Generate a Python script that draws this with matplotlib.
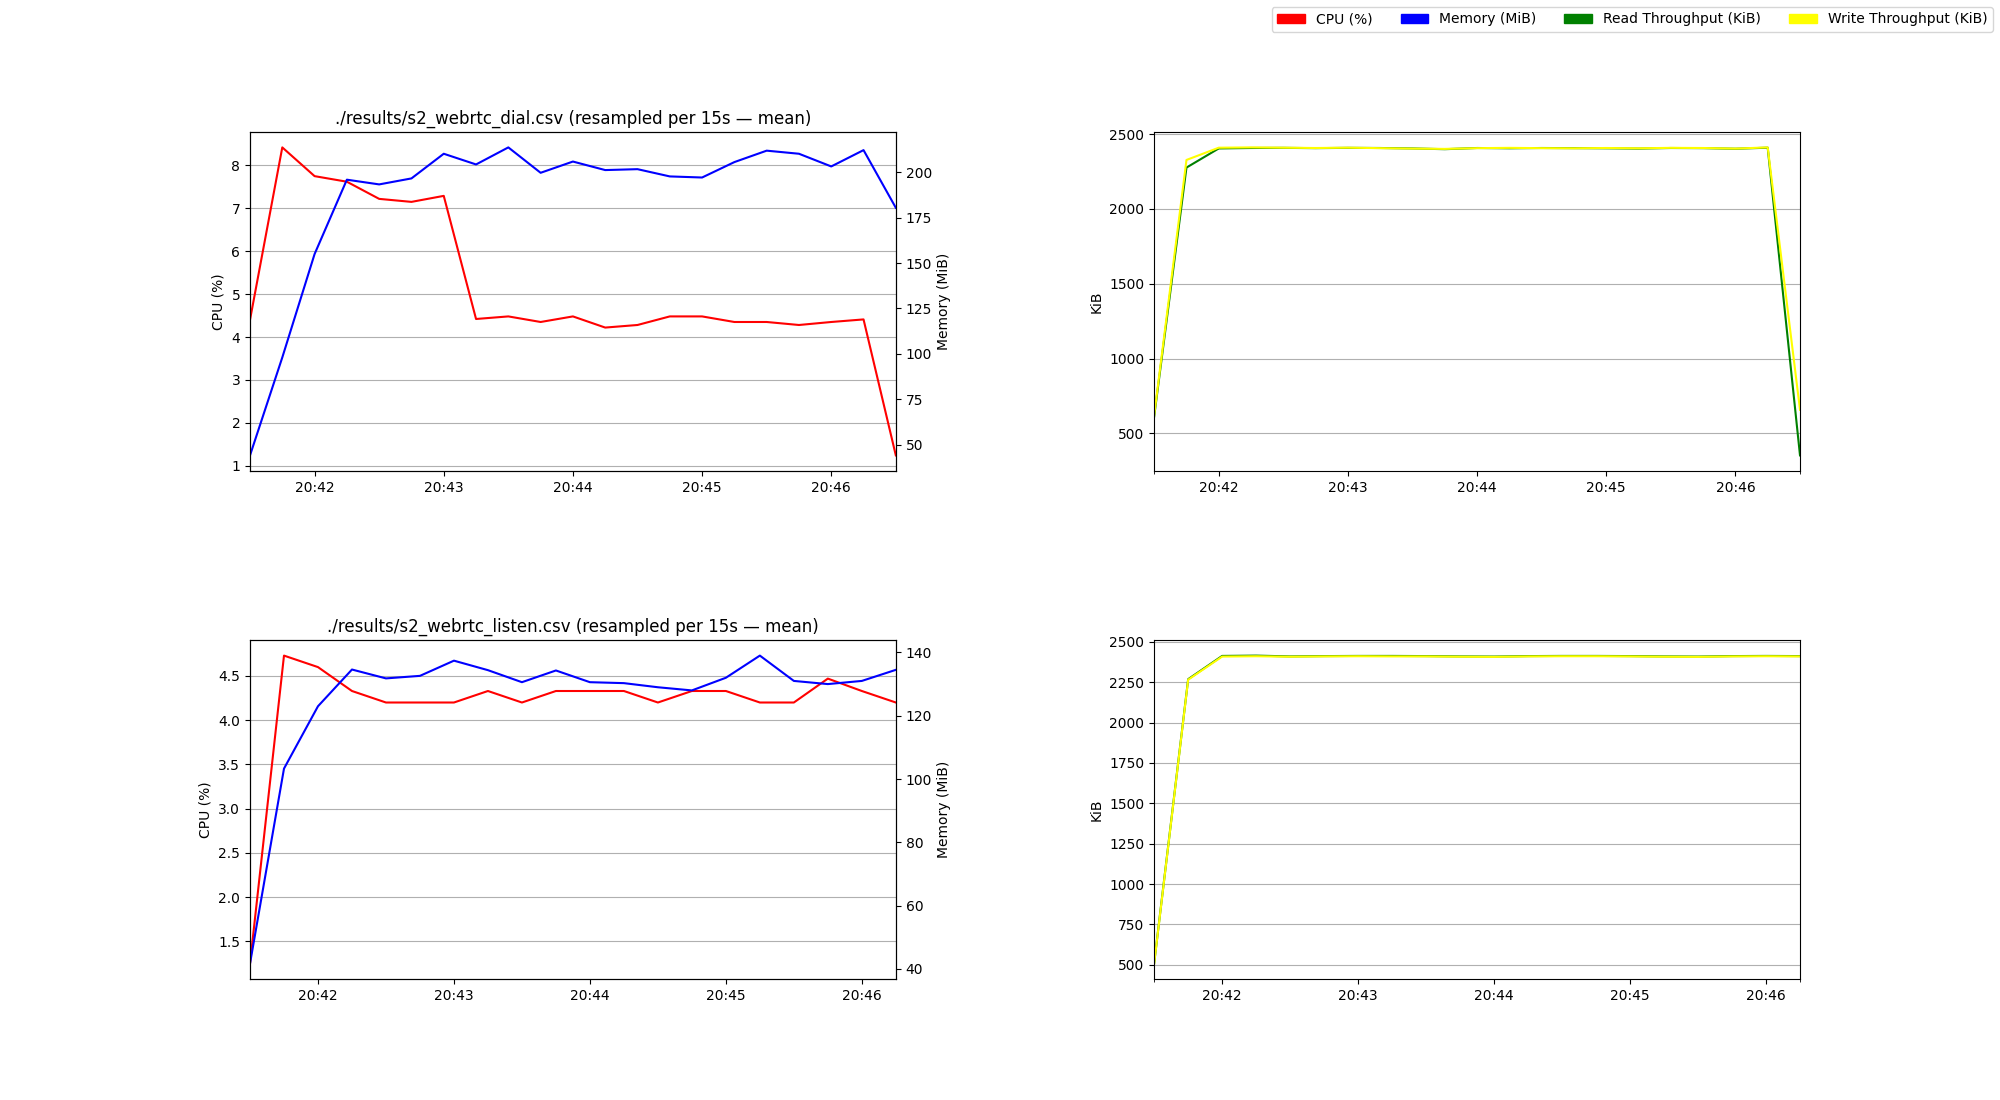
import pandas as pd
import matplotlib
matplotlib.use("Agg")
from matplotlib import pyplot as plt
import matplotlib.dates as mdates
from matplotlib.patches import Patch

# 时间轴（每15秒重采样）
dial_times = pd.date_range("2024-01-01 20:41:30", periods=21, freq="15s")
listen_times = pd.date_range("2024-01-01 20:41:30", periods=20, freq="15s")

# dial 数据
dial_cpu = [4.40, 8.42, 7.75, 7.62, 7.22, 7.15, 7.29, 4.42, 4.48, 4.35, 4.48,
            4.22, 4.28, 4.48, 4.48, 4.35, 4.35, 4.28, 4.35, 4.41, 1.24]
dial_mem = [44.0, 98.0, 155.0, 196.0, 193.4, 196.7, 210.3, 204.4, 213.8, 199.8, 206.0,
            201.3, 201.8, 197.8, 197.2, 205.7, 212.0, 210.3, 203.3, 212.3, 180.5]
dial_read = [612, 2277, 2405, 2408, 2409, 2407, 2409, 2408, 2405, 2400, 2408,
             2406, 2408, 2407, 2406, 2404, 2408, 2407, 2403, 2410, 352]
dial_write = [620, 2328, 2410, 2412, 2410, 2408, 2410, 2407, 2404, 2402, 2407,
              2409, 2407, 2406, 2408, 2406, 2409, 2408, 2404, 2412, 657]

# listen 数据
listen_cpu = [1.25, 4.73, 4.60, 4.33, 4.20, 4.20, 4.20, 4.33, 4.20, 4.33,
              4.33, 4.33, 4.20, 4.33, 4.33, 4.20, 4.20, 4.47, 4.33, 4.20]
listen_mem = [41.7, 103.3, 123.0, 134.6, 131.8, 132.6, 137.4, 134.4, 130.6, 134.3,
              130.6, 130.3, 129.0, 128.0, 132.0, 139.0, 131.0, 130.0, 131.0, 134.5]
listen_read = [511, 2268, 2412, 2414, 2409, 2411, 2412, 2412, 2411, 2409,
               2408, 2411, 2412, 2412, 2411, 2409, 2408, 2411, 2412, 2411]
listen_write = [508, 2265, 2408, 2410, 2407, 2409, 2410, 2409, 2409, 2407,
                2406, 2409, 2410, 2410, 2409, 2407, 2406, 2409, 2410, 2409]

runs = [
    ("./results/s2_webrtc_dial.csv", dial_times, dial_cpu, dial_mem, dial_read, dial_write),
    ("./results/s2_webrtc_listen.csv", listen_times, listen_cpu, listen_mem, listen_read, listen_write),
]

fig, axes = plt.subplots(2, 2, figsize=(20, 11), dpi=100)
plt.subplots_adjust(hspace=0.5, wspace=0.4)

fmt = mdates.DateFormatter("%H:%M")

for row, (name, t, cpu, mem, rd, wr) in enumerate(runs):
    # 左图：CPU 与内存
    ax = axes[row, 0]
    ax.plot(t, cpu, color="red")
    ax.set_ylabel("CPU (%)")
    ax.grid(axis="y")
    ax.set_xlim(t[0], t[-1])
    ax.xaxis.set_major_locator(mdates.MinuteLocator())
    ax.xaxis.set_major_formatter(fmt)
    ax.set_title(f"{name} (resampled per 15s \u2014 mean)")
    ax2 = ax.twinx()
    ax2.plot(t, mem, color="blue")
    ax2.set_ylabel("Memory (MiB)")

    # 右图：吞吐量
    ax = axes[row, 1]
    ax.plot(t, rd, color="green")
    ax.plot(t, wr, color="yellow")
    ax.set_ylabel("KiB")
    ax.grid(axis="y")
    ax.set_xlim(t[0], t[-1])
    ax.xaxis.set_major_locator(mdates.MinuteLocator())
    ax.xaxis.set_major_formatter(fmt)
    ax.set_xticks([mdates.date2num(t[0]), mdates.date2num(t[-1])], minor=True)

handles = [
    Patch(color="red", label="CPU (%)"),
    Patch(color="blue", label="Memory (MiB)"),
    Patch(color="green", label="Read Throughput (KiB)"),
    Patch(color="yellow", label="Write Throughput (KiB)"),
]
fig.legend(handles=handles, loc="upper right", ncol=4)

plt.savefig("out.png")
